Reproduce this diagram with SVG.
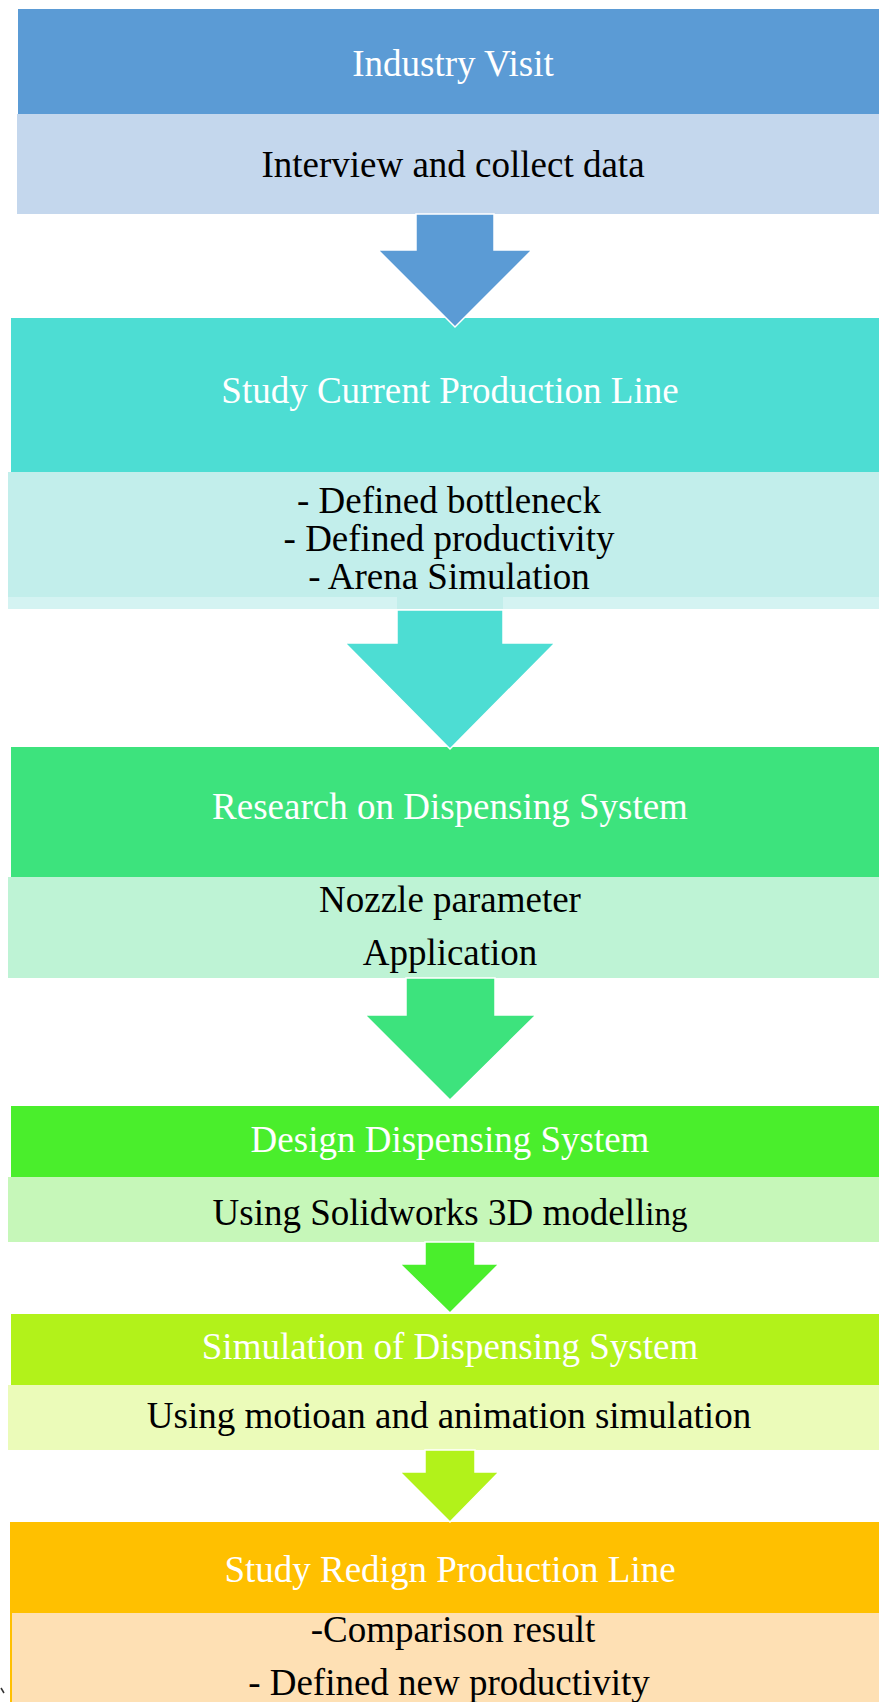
<svg xmlns="http://www.w3.org/2000/svg" width="879" height="1702" viewBox="0 0 879 1702">
<style>
text{font-family:"Liberation Serif","Times New Roman",serif;font-size:37px;text-anchor:middle}
.t{fill:#ffffff}
.b{fill:#000000}
.arr{stroke:#ffffff;stroke-width:1.5;stroke-linejoin:miter}
</style>
<rect width="879" height="1702" fill="#ffffff"/>
<g id="node1">
<rect x="18" y="9" width="861" height="105" fill="#5B9BD5"/>
<rect x="17" y="114" width="862" height="100" fill="#C4D7ED"/>
<text class="t" x="453" y="76">Industry Visit</text>
<text class="b" x="453" y="177">Interview and collect data</text>
</g>
<g id="node2">
<rect x="11" y="318" width="868" height="154" fill="#4DDDD3"/>
<rect x="8" y="472" width="871" height="125" fill="#C2EEEB"/>
<rect x="8" y="597" width="871" height="12" fill="#D4F3F2"/>
<rect x="397" y="597" width="106" height="12" fill="#C2EEEB"/>
<text class="t" x="450" y="403">Study Current Production Line</text>
<text class="b" x="449" y="513">- Defined bottleneck</text>
<text class="b" x="449" y="551">- Defined productivity</text>
<text class="b" x="449" y="589">- Arena Simulation</text>
</g>
<g id="node3">
<rect x="11" y="747" width="868" height="130" fill="#3DE37D"/>
<rect x="8" y="877" width="871" height="101" fill="#BEF3D5"/>
<text class="t" x="450" y="819">Research on Dispensing System</text>
<text class="b" x="450" y="912">Nozzle parameter</text>
<text class="b" x="450" y="965">Application</text>
</g>
<g id="node4">
<rect x="11" y="1106" width="868" height="71" fill="#4AEE2C"/>
<rect x="8" y="1177" width="871" height="65" fill="#C6F7B9"/>
<text class="t" x="450" y="1152">Design Dispensing System</text>
<text class="b" x="450" y="1225">Using Solidworks 3D modell<tspan font-size="33">ing</tspan></text>
</g>
<g id="node5">
<rect x="11" y="1314" width="868" height="71" fill="#B2F21A"/>
<rect x="8" y="1385" width="871" height="65" fill="#EBFBB9"/>
<text class="t" x="450" y="1359">Simulation of Dispensing System</text>
<text class="b" x="449" y="1428">Using motioan and animation simulation</text>
</g>
<g id="node6">
<rect x="10" y="1522" width="869" height="180" fill="#FFC000"/>
<rect x="12" y="1613" width="867" height="89" fill="#FEE0B4"/>
<text class="t" x="450" y="1582">Study Redign Production Line</text>
<text class="b" x="453" y="1642">-Comparison result</text>
<text class="b" x="449" y="1695">- Defined new productivity</text>
</g>
<g id="connectors">
<path class="arr" d="M416 214 V250 H378 L455 327 L532 250 H494 V214 Z" fill="#5B9BD5"/>
<path class="arr" d="M397 610 V643 H345 L450 749 L555 643 H503 V610 Z" fill="#4DDDD3"/>
<path class="arr" d="M406 978 V1015 H365 L450 1100 L536 1015 H495 V978 Z" fill="#3DE37D"/>
<path class="arr" d="M425 1242 V1264 H400 L450 1313 L499 1264 H475 V1242 Z" fill="#4AEE2C"/>
<path class="arr" d="M425 1450 V1472 H400 L450 1522 L499 1472 H475 V1450 Z" fill="#B2F21A"/>
</g>
<path d="M1 1688 L4 1693" stroke="#333333" stroke-width="1.5"/>
</svg>
